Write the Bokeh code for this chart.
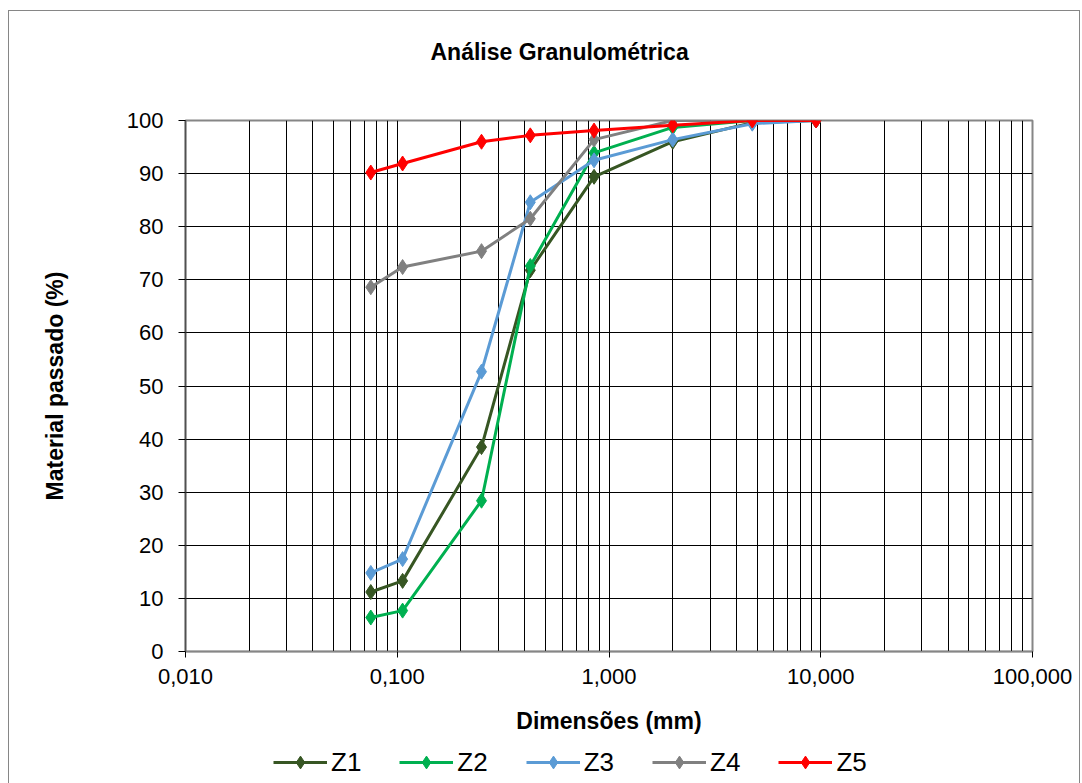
from bokeh.plotting import figure
from bokeh.layouts import column
from bokeh.models import (FixedTicker, CustomJSTickFormatter, Legend, LegendItem, Range1d, Title)
from bokeh.embed import file_html
from bokeh.resources import INLINE

# ---- data ----
sieve_mm = [0.075, 0.106, 0.250, 0.425, 0.850, 2.0, 4.75, 9.5]
z1 = [11.2, 13.3, 38.5, 71.8, 89.4, 96.0, 99.6, 100.0]
z2 = [6.4, 7.7, 28.4, 72.6, 93.9, 98.7, 100.0, 100.0]
z3 = [14.8, 17.4, 52.7, 84.6, 92.5, 96.4, 99.4, 100.0]
z4 = [68.6, 72.4, 75.4, 81.5, 96.4, 100.0, 100.0, 100.0]
z5 = [90.2, 91.9, 96.0, 97.2, 98.1, 99.1, 100.0, 100.0]
series_names = ["Z1", "Z2", "Z3", "Z4", "Z5"]
series_colors = ["#375623", "#00B050", "#5B9BD5", "#808080", "#FF0000"]
x_major_ticks = [0.01, 0.1, 1, 10, 100]
y_ticks = list(range(0, 101, 10))

FONT = "Liberation Sans"

p = figure(width=1070, height=735, x_axis_type="log",
           x_range=Range1d(0.01, 100), y_range=Range1d(0, 100),
           output_backend="svg", toolbar_location=None,
           min_border_left=176, min_border_right=47,
           min_border_top=109, min_border_bottom=95)

p.background_fill_color = "white"
p.border_fill_color = "white"
p.outline_line_color = "#868686"
p.outline_line_width = 2

# title (outermost) + an empty spacer title between it and the frame
p.title.text = "Análise Granulométrica"
p.title.align = "left"
p.title.offset = 245
p.title.text_font = FONT
p.title.text_font_size = "23px"
p.title.text_font_style = "bold"
p.title.text_color = "black"
p.title.standoff = 10
spacer = Title(text="\u00a0", text_font_size="1px", standoff=48)
p.add_layout(spacer, "above")

# x axis
xa = p.xaxis[0]
xa.ticker = FixedTicker(ticks=x_major_ticks, minor_ticks=[])
xa.formatter = CustomJSTickFormatter(code="return tick.toFixed(3).replace('.', ',');")
xa.axis_label = "Dimensões (mm)"
xa.axis_label_text_font = FONT
xa.axis_label_text_font_size = "23px"
xa.axis_label_text_font_style = "bold"
xa.axis_label_text_color = "black"
xa.axis_label_standoff = 21
xa.major_label_text_font = FONT
xa.major_label_text_font_size = "22px"
xa.major_label_text_color = "black"
xa.major_label_standoff = 11
xa.axis_line_color = "#868686"
xa.axis_line_width = 1.5
xa.major_tick_line_color = "black"
xa.major_tick_out = 6
xa.major_tick_in = 0
xa.minor_tick_out = 0
xa.minor_tick_in = 0

# y axis
ya = p.yaxis[0]
ya.ticker = FixedTicker(ticks=y_ticks)
ya.axis_label = "Material passado (%)"
ya.axis_label_text_font = FONT
ya.axis_label_text_font_size = "23px"
ya.axis_label_text_font_style = "bold"
ya.axis_label_text_color = "black"
ya.axis_label_standoff = 56
ya.major_label_text_font = FONT
ya.major_label_text_font_size = "22px"
ya.major_label_text_color = "black"
ya.major_label_standoff = 15
ya.axis_line_color = "#505050"
ya.axis_line_width = 1.5
ya.major_tick_line_color = "black"
ya.major_tick_out = 7
ya.major_tick_in = 0
ya.minor_tick_out = 0
ya.minor_tick_in = 0

# grids
minor_x = [m * 10.0 ** d for d in range(-2, 2) for m in range(2, 10)]
p.xgrid.ticker = FixedTicker(ticks=[0.1, 1, 10], minor_ticks=minor_x)
p.xgrid.grid_line_color = "black"
p.xgrid.grid_line_width = 1
p.xgrid.minor_grid_line_color = "black"
p.xgrid.minor_grid_line_width = 1
p.ygrid.ticker = FixedTicker(ticks=list(range(10, 100, 10)))
p.ygrid.grid_line_color = "black"
p.ygrid.grid_line_width = 1

all_series = [z1, z2, z3, z4, z5]

# series on the main chart
for name, vals, color in zip(series_names, all_series, series_colors):
    p.line(sieve_mm, vals, line_color=color, line_width=3)
    p.scatter(sieve_mm, vals, marker="diamond", size=15,
              fill_color=color, line_color=color)

# legend strip below the chart (same series, ranges set so only the legend shows)
lg = figure(width=1070, height=40, x_axis_type="log",
            x_range=Range1d(1000, 2000), y_range=Range1d(-200, -100),
            output_backend="svg", toolbar_location=None,
            x_axis_location=None, y_axis_location=None,
            min_border=0)
lg.xgrid.visible = False
lg.ygrid.visible = False
lg.outline_line_color = None
lg.background_fill_color = "white"
lg.border_fill_color = "white"

items = []
for name, vals, color in zip(series_names, all_series, series_colors):
    ln = lg.line(sieve_mm, vals, line_color=color, line_width=3)
    sc = lg.scatter(sieve_mm, vals, marker="diamond", size=15,
                    fill_color=color, line_color=color)
    items.append(LegendItem(label=name, renderers=[ln, sc]))

legend = Legend(items=items, orientation="horizontal", location=(88, 8))
legend.border_line_color = None
legend.background_fill_alpha = 0
legend.padding = 0
legend.margin = 0
legend.spacing = 38
legend.label_standoff = 4
legend.glyph_width = 54
legend.glyph_height = 32
legend.label_text_font = FONT
legend.label_text_font_size = "26px"
legend.label_text_color = "black"
lg.add_layout(legend)

layout = column(p, lg, spacing=0, margin=(10, 0, 0, 8),
                styles={"border": "1px solid #868686", "background-color": "white"})

open("out.html", "w").write(file_html(layout, INLINE))
